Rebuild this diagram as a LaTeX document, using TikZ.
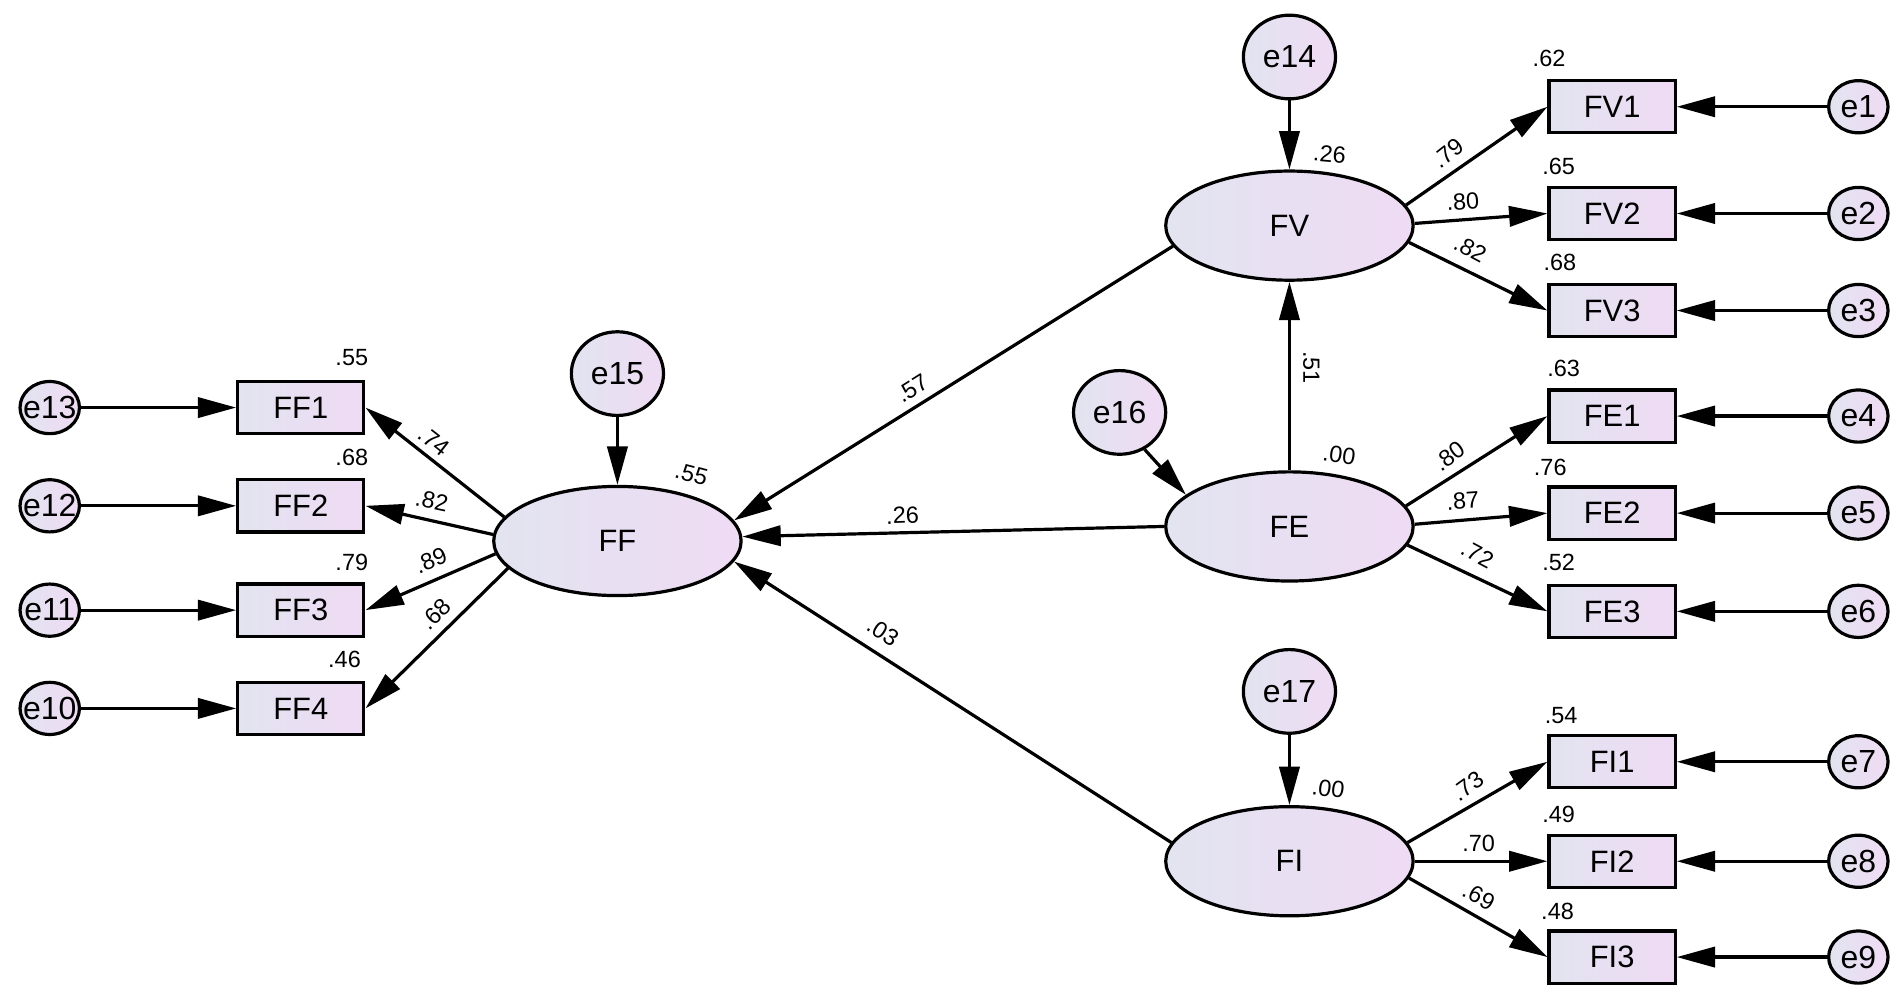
\documentclass[tikz,border=0pt]{standalone}
\usepackage{fontspec}
\setmainfont{Liberation Sans}
\usetikzlibrary{arrows.meta,shapes.geometric}
\definecolor{lavL}{RGB}{226,228,240}
\definecolor{lavR}{RGB}{239,219,244}
\tikzset{
	var/.style={draw,line width=1.5pt,left color=lavL,right color=lavR,inner sep=0pt},
	obs/.style={var,rectangle,minimum width=2.08cm,minimum height=0.86cm,font=\fontsize{14.5}{15}\selectfont},
	lat/.style={var,ellipse,minimum width=4.08cm,minimum height=1.8cm,font=\fontsize{14.5}{15}\selectfont},
	err/.style={var,ellipse,minimum width=0.98cm,minimum height=0.86cm,font=\fontsize{15}{16}\selectfont},
	dist/.style={var,ellipse,minimum width=1.52cm,minimum height=1.38cm,font=\fontsize{15}{16}\selectfont},
	est/.style={inner sep=0pt,font=\fontsize{11}{12}\selectfont},
	arr/.style={line width=1.5pt,-{Triangle[length=18pt,width=9.5pt]}}
}
\begin{document}
\begin{tikzpicture}[x=0.02cm,y=-0.02cm]
	\useasboundingbox (0,0) rectangle (1568,828);
	\node[lat] (FF) at (509,446) {FF};
	\node[lat] (FV) at (1063,186) {FV};
	\node[lat] (FE) at (1063,434) {FE};
	\node[lat] (FI) at (1063,710) {FI};
	\node[dist] (e15) at (509,308) {e15};
	\node[dist] (e14) at (1063,47) {e14};
	\node[dist] (e16) at (923,340) {e16};
	\node[dist] (e17) at (1063,570) {e17};
	\node[obs] (FF1) at (248,336) {FF1};
	\node[obs] (FF2) at (248,417) {FF2};
	\node[obs] (FF3) at (248,503) {FF3};
	\node[obs] (FF4) at (248,584) {FF4};
	\node[err] (e13) at (41,336) {\makebox[0pt]{e13}};
	\node[err] (e12) at (41,417) {\makebox[0pt]{e12}};
	\node[err] (e11) at (41,503) {\makebox[0pt]{e11}};
	\node[err] (e10) at (41,584) {\makebox[0pt]{e10}};
	\node[obs] (FV1) at (1329,88) {FV1};
	\node[obs] (FV2) at (1329,176) {FV2};
	\node[obs] (FV3) at (1329,256) {FV3};
	\node[obs] (FE1) at (1329,343) {FE1};
	\node[obs] (FE2) at (1329,423) {FE2};
	\node[obs] (FE3) at (1329,504) {FE3};
	\node[obs] (FI1) at (1329,628) {FI1};
	\node[obs] (FI2) at (1329,710) {FI2};
	\node[obs] (FI3) at (1329,789) {FI3};
	\node[err] (e1) at (1532,88) {e1};
	\node[err] (e2) at (1532,176) {e2};
	\node[err] (e3) at (1532,256) {e3};
	\node[err] (e4) at (1532,343) {e4};
	\node[err] (e5) at (1532,423) {e5};
	\node[err] (e6) at (1532,504) {e6};
	\node[err] (e7) at (1532,628) {e7};
	\node[err] (e8) at (1532,710) {e8};
	\node[err] (e9) at (1532,789) {e9};
	\draw[arr] (e13) -- (FF1);
	\draw[arr] (e12) -- (FF2);
	\draw[arr] (e11) -- (FF3);
	\draw[arr] (e10) -- (FF4);
	\draw[arr] (FF.168) -- (FF1.east);
	\draw[arr] (FF.177) -- (FF2.east);
	\draw[arr] (FF.186) -- (FF3.east);
	\draw[arr] (FF.194) -- (FF4.east);
	\draw[arr] (e15) -- (FF);
	\draw[arr] (e14) -- (FV);
	\draw[arr] (e16.-56) -- (FE.163);
	\draw[arr] (e17) -- (FI);
	\draw[arr] (FE) -- (FV);
	\draw[arr] (FV.190) -- (FF.10);
	\draw[arr] (FE.180) -- (FF.2);
	\draw[arr] (FI.171) -- (FF.-10);
	\draw[arr] (FV.10) -- (FV1.west);
	\draw[arr] (FV.1) -- (FV2.west);
	\draw[arr] (FV.-8) -- (FV3.west);
	\draw[arr] (FE.10) -- (FE1.west);
	\draw[arr] (FE.1) -- (FE2.west);
	\draw[arr] (FE.-9) -- (FE3.west);
	\draw[arr] (FI.9) -- (FI1.west);
	\draw[arr] (FI.0) -- (FI2.west);
	\draw[arr] (FI.-8) -- (FI3.west);
	\draw[arr] (e1) -- (FV1);
	\draw[arr] (e2) -- (FV2);
	\draw[arr] (e3) -- (FV3);
	\draw[arr] (e4) -- (FE1);
	\draw[arr] (e5) -- (FE2);
	\draw[arr] (e6) -- (FE3);
	\draw[arr] (e7) -- (FI1);
	\draw[arr] (e8) -- (FI2);
	\draw[arr] (e9) -- (FI3);
	\node[est] (rFF1) at (290,295) {.55};
	\node[est] (rFF2) at (290,377) {.68};
	\node[est] (rFF3) at (290,464) {.79};
	\node[est] (rFF4) at (284,544) {.46};
	\node[est,rotate=-38] (wFF1) at (358,364) {.74};
	\node[est,rotate=-12] (wFF2) at (356,413) {.82};
	\node[est,rotate=23] (wFF3) at (355,462) {.89};
	\node[est,rotate=45] (wFF4) at (359,506) {.68};
	\node[est,rotate=-15] (rFF) at (570,391) {.55};
	\node[est,rotate=32] (wFV) at (752,320) {.57};
	\node[est,rotate=2] (wFE) at (744,425) {.26};
	\node[est,rotate=-33] (wFI) at (728,521) {.03};
	\node[est,rotate=-5] (rFV) at (1096,127) {.26};
	\node[est,rotate=-8] (rFE) at (1104,375) {.00};
	\node[est,rotate=-8] (rFI) at (1095,650) {.00};
	\node[est,rotate=-90] (wFEFV) at (1081,303) {.51};
	\node[est] (rFV1) at (1277,48) {.62};
	\node[est] (rFV2) at (1285,137) {.65};
	\node[est] (rFV3) at (1286,216) {.68};
	\node[est,rotate=38] (wFV1) at (1194,126) {.79};
	\node[est,rotate=4] (wFV2) at (1206,166) {.80};
	\node[est,rotate=-28] (wFV3) at (1212,205) {.82};
	\node[est] (rFE1) at (1289,304) {.63};
	\node[est] (rFE2) at (1278,385) {.76};
	\node[est] (rFE3) at (1285,464) {.52};
	\node[est,rotate=36] (wFE1) at (1195,376) {.80};
	\node[est,rotate=4] (wFE2) at (1206,413) {.87};
	\node[est,rotate=-28] (wFE3) at (1218,457) {.72};
	\node[est] (rFI1) at (1287,590) {.54};
	\node[est] (rFI2) at (1285,671) {.49};
	\node[est] (rFI3) at (1284,751) {.48};
	\node[est,rotate=36] (wFI1) at (1210,648) {.73};
	\node[est] (wFI2) at (1219,695) {.70};
	\node[est,rotate=-28] (wFI3) at (1219,739) {.69};
\end{tikzpicture}
\end{document}
